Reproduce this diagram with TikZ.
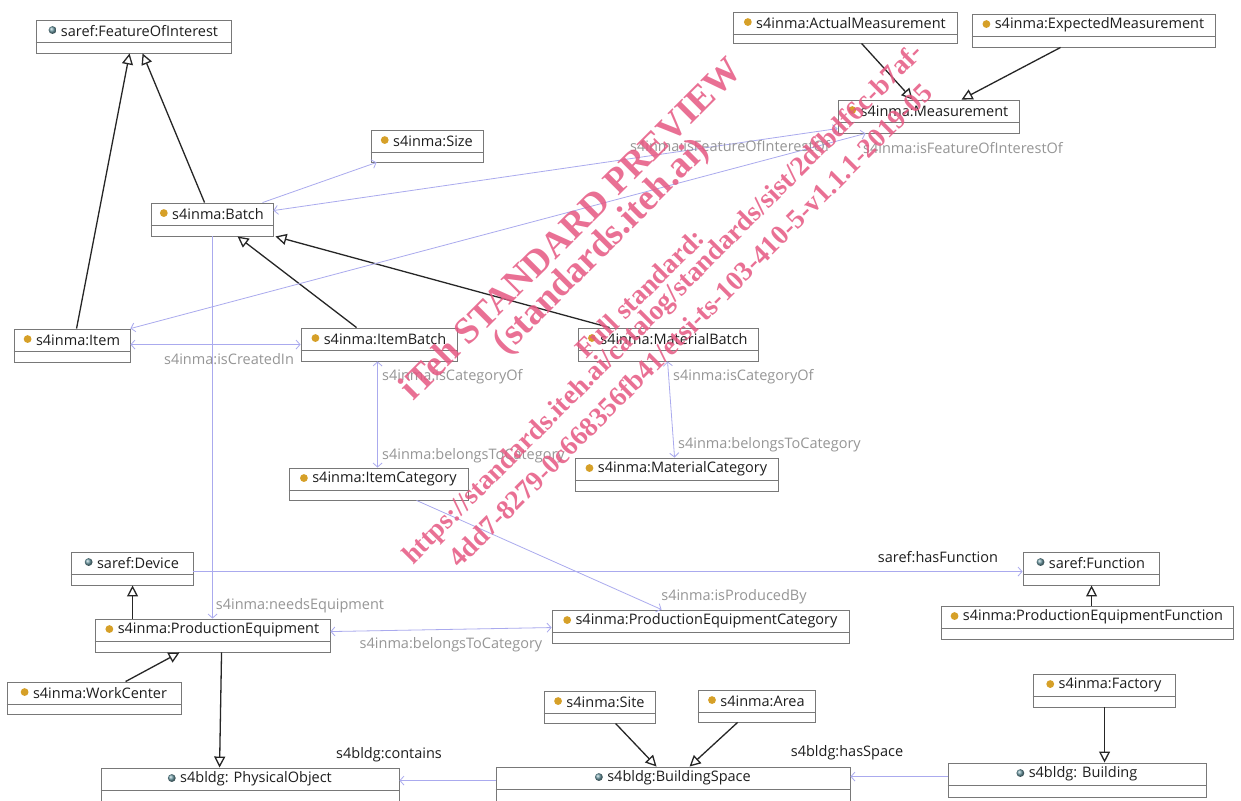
\documentclass[tikz,border=0pt]{standalone}
\usepackage{fontspec}
\setmainfont{Open Sans}
\newfontfamily\wmfont{Liberation Serif}
\usetikzlibrary{arrows.meta,fit}
\definecolor{boxline}{RGB}{120,120,120}
\definecolor{clstxt}{RGB}{30,30,30}
\definecolor{lblgray}{RGB}{150,150,150}
\definecolor{lav}{RGB}{170,170,238}
\definecolor{gold}{RGB}{214,160,40}
\definecolor{tealc}{RGB}{110,155,165}
\definecolor{wmred}{RGB}{230,88,130}
\tikzset{
  clsbox/.style={draw=boxline, line width=0.9pt, inner sep=0pt, fill=white},
  clstext/.style={inner sep=0pt, text=clstxt, font=\fontsize{14.5}{16}\selectfont},
  icongold/.style={fill=gold},
  iconteal/.style={shade, shading=ball, ball color=tealc},
  gen/.style={draw=black!85, line width=1.3pt, -{Triangle[open, length=11pt, width=11pt, fill=white]}},
  rel/.style={draw=lav, line width=0.8pt},
  tipr/.style={-{Straight Barb[length=4pt, width=9pt]}},
  tipb/.style={{Straight Barb[length=4pt, width=9pt]}-{Straight Barb[length=4pt, width=9pt]}},
  lbl/.style={inner sep=0pt, text=lblgray, font=\fontsize{14.5}{16}\selectfont},
  lblk/.style={lbl, text=clstxt},
  wm/.style={inner sep=0pt, text=wmred, opacity=0.85, rotate=45, font=\wmfont\bfseries\fontsize{27.5}{30}\selectfont},
  wmbig/.style={wm, font=\wmfont\bfseries\fontsize{37}{40}\selectfont},
}
\newcommand\umlclass[7]{%
  \node[clsbox, fit={(#2,#3)(#4,#5)}] (#1) {};
  \draw[boxline, line width=0.8pt] ([yshift=-22.5pt]#1.north west) -- ([yshift=-22.5pt]#1.north east);
  \node[clstext] (#1t) at ([yshift=-11.5pt]#1.north) {\hspace{12pt}#7};
  \path[#6] ([xshift=3.8pt,yshift=1pt]#1t.west) circle (3.9pt);
}
\begin{document}
\begin{tikzpicture}[x=1pt, y=-1pt]
\path[use as bounding box] (0,0) rectangle (1241,800);
\clip (0,0) rectangle (1241,800);
\fill[white] (0,0) rectangle (1241,800);

\umlclass{FoI}{36}{20}{231}{53}{iconteal}{saref:FeatureOfInterest}
\umlclass{Item}{14}{329}{130}{362}{icongold}{s4inma:Item}
\umlclass{Batch}{151}{203}{273}{236}{icongold}{s4inma:Batch}
\umlclass{Size}{371}{130}{483}{162}{icongold}{s4inma:Size}
\umlclass{am}{733}{12}{957}{43}{icongold}{s4inma:ActualMeasurement}
\umlclass{em}{972}{14}{1215}{47}{icongold}{s4inma:ExpectedMeasurement}
\umlclass{meas}{838}{100}{1019}{133}{icongold}{s4inma:Measurement}
\umlclass{ib}{301}{328}{457}{361}{icongold}{s4inma:ItemBatch}
\umlclass{mb}{578}{328}{758}{361}{icongold}{s4inma:MaterialBatch}
\umlclass{ic}{289}{468}{468}{500}{icongold}{s4inma:ItemCategory}
\umlclass{mc}{575}{458}{778}{491}{icongold}{s4inma:MaterialCategory}
\umlclass{dev}{71}{552}{193}{585}{iconteal}{saref:Device}
\umlclass{pe}{95}{619}{330}{652}{icongold}{s4inma:ProductionEquipment}
\umlclass{wc}{7}{682}{181}{714}{icongold}{s4inma:WorkCenter}
\umlclass{po}{101}{768}{399}{802}{iconteal}{s4bldg: PhysicalObject}
\umlclass{pec}{552}{610}{849}{643}{icongold}{s4inma:ProductionEquipmentCategory}
\umlclass{site}{544}{691}{655}{723}{icongold}{s4inma:Site}
\umlclass{area}{698}{690}{815}{722}{icongold}{s4inma:Area}
\umlclass{bs}{496}{767}{850}{802}{iconteal}{s4bldg:BuildingSpace}
\umlclass{fn}{1023}{552}{1159}{585}{iconteal}{saref:Function}
\umlclass{pef}{941}{606}{1233}{639}{icongold}{s4inma:ProductionEquipmentFunction}
\umlclass{fac}{1033}{674}{1175}{707}{icongold}{s4inma:Factory}
\umlclass{bld}{948}{763}{1206}{797}{iconteal}{s4bldg: Building}

% generalizations
\draw[gen] ([xshift=63pt]Item.north west) -- ([xshift=94pt]FoI.south west);
\draw[gen] ([xshift=54pt]Batch.north west) -- ([xshift=107pt]FoI.south west);
\draw[gen] ([xshift=56pt]ib.north west) -- ([xshift=87pt]Batch.south west);
\draw[gen] ([xshift=32pt]mb.north west) -- ([xshift=2pt]Batch.south east);
\draw[gen] ([xshift=129pt]am.south west) -- ([xshift=75pt]meas.north west);
\draw[gen] ([xshift=89pt]em.south west) -- ([xshift=124pt]meas.north west);
\draw[gen] ([xshift=38pt]pe.north west) -- ([xshift=62pt]dev.south west);
\draw[gen] ([xshift=119pt]wc.north west) -- ([xshift=85pt]pe.south west);
\draw[gen] ([xshift=127pt]pe.south west) -- ([xshift=119pt]po.north west);
\draw[gen] ([xshift=72pt]site.south west) -- ([xshift=161pt]bs.north west);
\draw[gen] ([xshift=40pt]area.south west) -- ([xshift=194pt]bs.north west);
\draw[gen] ([xshift=72pt]fac.south west) -- ([xshift=157pt]bld.north west);
\draw[gen] ([xshift=151pt]pef.north west) -- ([xshift=69pt]fn.south west);

% object properties
\draw[rel, tipr] ([xshift=112pt]Batch.north west) -- ([xshift=6pt]Size.south west);
\draw[rel, tipb] ([yshift=-29pt]meas.north west) -- ([yshift=-8pt]Batch.north east);
\draw[rel, tipb] ([xshift=28pt]meas.south west) -- (Item.north east);
\draw[rel, tipb] ([yshift=-16pt]Item.north east) -- ([yshift=-17pt]ib.north west);
\draw[rel, tipr] ([xshift=62pt]Batch.south west) -- ([xshift=118pt]pe.north west);
\draw[rel, tipb] ([xshift=77pt]ib.south west) -- ([xshift=89pt]ic.north west);
\draw[rel, tipb] ([xshift=90pt]mb.south west) -- ([xshift=100pt]mc.north west);
\draw[rel, tipr] ([xshift=128pt]ic.south west) -- ([xshift=110pt]pec.north west);
\draw[rel, tipr] ([yshift=-20pt]dev.north east) -- ([yshift=-20pt]fn.north west);
\draw[rel, tipb] ([yshift=-13pt]pe.north east) -- ([yshift=-18pt]pec.north west);
\draw[rel, tipr] ([yshift=-14pt]bs.north west) -- ([yshift=-13pt]po.north east);
\draw[rel, tipr] ([yshift=-14pt]bld.north west) -- ([yshift=-10pt]bs.north east);

% labels
\node[lbl] (l1) at (730,146) {s4inma:isFeatureOfInterestOf};
\node[lbl] (l2) at (963,148) {s4inma:isFeatureOfInterestOf};
\node[lbl] (l3) at (229,359) {s4inma:isCreatedIn};
\node[lbl, anchor=west] (l4) at (382,377) {s4inma:isCategoryOf};
\node[lbl, anchor=west] (l5) at (382,456) {s4inma:belongsToCategory};
\node[lbl, anchor=west] (l6) at (673,377) {s4inma:isCategoryOf};
\node[lbl, anchor=west] (l7) at (678,445) {s4inma:belongsToCategory};
\node[lbl] (l8) at (300,606) {s4inma:needsEquipment};
\node[lbl] (l9) at (451,645) {s4inma:belongsToCategory};
\node[lbl] (l10) at (734,597) {s4inma:isProducedBy};
\node[lblk] (l11) at (938,557) {saref:hasFunction};
\node[lblk] (l12) at (389,755) {s4bldg:contains};
\node[lblk] (l13) at (847,753) {s4bldg:hasSpace};

% watermark
\node[wmbig] (w1) at (570,228) {iTeh STANDARD PREVIEW};
\node[wmbig] (w2) at (602,247) {(standards.iteh.ai)};
\node[wm] (w3) at (640,293) {Full standard:};
\node[wm] (w4) at (664,305) {https://standards.iteh.ai/catalog/standards/sist/2dfbdf6c-b7af-};
\node[wm] (w5) at (690,325) {4dd7-8279-0c668356fb41/etsi-ts-103-410-5-v1.1.1-2019-05};
\end{tikzpicture}
\end{document}
